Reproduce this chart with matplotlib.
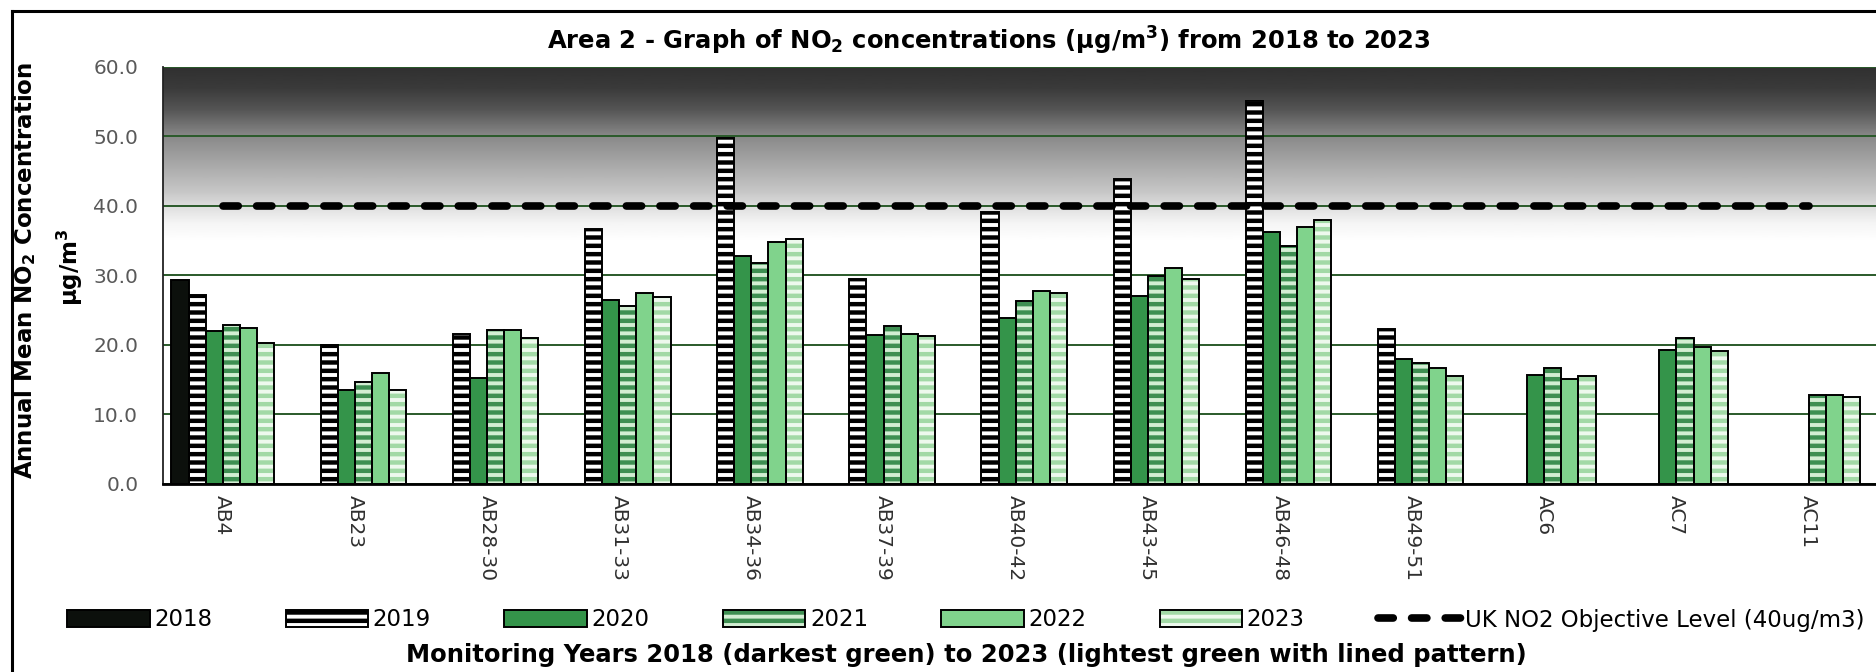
import numpy as np
import matplotlib
matplotlib.use('Agg')
import matplotlib.pyplot as plt
import matplotlib.patches as mpatches
from matplotlib.colors import LinearSegmentedColormap

plt.rcParams['font.family'] = 'DejaVu Sans'
plt.rcParams['mathtext.default'] = 'regular'
plt.rcParams['hatch.linewidth'] = 3.2

nan = np.nan

# monitoring sites and annual means (ug/m3)
sites = ['AB4', 'AB23', 'AB28-30', 'AB31-33', 'AB34-36', 'AB37-39', 'AB40-42',
         'AB43-45', 'AB46-48', 'AB49-51', 'AC6', 'AC7', 'AC11']
years = ['2018', '2019', '2020', '2021', '2022', '2023']
no2_2018 = [29.3, nan, nan, nan, nan, nan, nan, nan, nan, nan, nan, nan, nan]
no2_2019 = [27.1, 19.9, 21.5, 36.7, 49.8, 29.5, 39.1, 43.8, 55.1, 22.3, nan, nan, nan]
no2_2020 = [22.0, 13.5, 15.2, 26.5, 32.8, 21.4, 23.9, 27.0, 36.3, 17.9, 15.7, 19.3, nan]
no2_2021 = [22.9, 14.6, 22.1, 25.6, 31.8, 22.7, 26.3, 29.9, 34.2, 17.3, 16.7, 20.9, 12.8]
no2_2022 = [22.4, 15.9, 22.1, 27.4, 34.8, 21.5, 27.7, 31.0, 36.9, 16.7, 15.0, 19.7, 12.8]
no2_2023 = [20.3, 13.5, 21.0, 26.8, 35.2, 21.2, 27.5, 29.5, 37.9, 15.5, 15.5, 19.1, 12.5]
objective = [40] * len(sites)
yticks = [0, 10, 20, 30, 40, 50, 60]

series = [no2_2018, no2_2019, no2_2020, no2_2021, no2_2022, no2_2023]
faces = ['#0c100c', '#ffffff', '#34944a', '#d3eed3', '#80d38c', '#eef9ee']
hatches = [None, '--', None, '--', None, '--']
stripes = [None, '#000000', None, '#3e8f52', None, '#a2d9a6']

W, H = 1876, 672
fig = plt.figure(figsize=(W / 100, H / 100), dpi=100)
ax = fig.add_axes([163.3 / W, 188.5 / H, 1 - 163.3 / W, 416.5 / H])

x = np.arange(len(sites))
xlo, xhi = -0.45, 12.51
ax.set_xlim(xlo, xhi)
ax.set_ylim(0, 60)

# grey shading towards the top of the plot
lv = np.linspace(35, 60, 300)
shade = np.interp(lv, [35, 37.5, 40, 42, 46, 50, 54, 57, 60],
                  [1.0, 0.96, 0.87, 0.78, 0.66, 0.54, 0.33, 0.23, 0.19])
grey = LinearSegmentedColormap.from_list('g', ['black', 'white'])
ax.imshow(shade[:, None], cmap=grey, vmin=0, vmax=1, origin='lower',
          extent=[xlo, xhi, 35, 60], aspect='auto', zorder=0)

ax.set_axisbelow(True)
ax.yaxis.grid(True, color='#2a5a2a', lw=1.4)

w = 0.1294
for k, vals in enumerate(series):
    pos = x + (k - 2.5) * w
    ax.bar(pos, vals, w, color=faces[k], edgecolor=stripes[k] or faces[k],
           hatch=hatches[k], linewidth=0, zorder=2)
    ax.bar(pos, vals, w, fill=False, edgecolor='black', linewidth=1.4, zorder=3)

ax.plot(x, objective, color='black', lw=5.5, dashes=(2.0, 2.4),
        dash_capstyle='round', zorder=4)

for s in ['top', 'right']:
    ax.spines[s].set_visible(False)
ax.spines['left'].set_color('#222222')
ax.spines['left'].set_linewidth(1.3)
ax.spines['bottom'].set_color('black')
ax.spines['bottom'].set_linewidth(2)

ax.set_yticks(yticks)
ax.set_yticklabels([f'{v:.1f}' for v in yticks], color='#595959', fontsize=14.5)
ax.set_xticks(x)
ax.set_xticklabels(sites, rotation=-90, fontsize=14.5, color='#303030',
                   ha='center', va='top')
ax.tick_params(axis='y', length=0, pad=18)
ax.tick_params(axis='x', length=0, pad=8)

fig.text(989 / W, 1 - 41 / H,
         'Area 2 - Graph of NO$_2$ concentrations (µg/m$^3$) from 2018 to 2023',
         ha='center', va='center', fontsize=17.5, fontweight='bold')
fig.text(25 / W, 1 - 270 / H, 'Annual Mean NO$_2$ Concentration', rotation=90,
         ha='center', va='center', fontsize=16.5, fontweight='bold')
fig.text(70 / W, 1 - 267 / H, 'µg/m$^3$', rotation=90,
         ha='center', va='center', fontsize=16.5, fontweight='bold')
fig.text(966 / W, 1 - 655 / H,
         'Monitoring Years 2018 (darkest green) to 2023 (lightest green with lined pattern)',
         ha='center', va='center', fontsize=17.5, fontweight='bold')

handles = []
for k in range(len(years)):
    fill = mpatches.Patch(facecolor=faces[k], edgecolor=stripes[k] or faces[k],
                          hatch=hatches[k], linewidth=0)
    edge = mpatches.Patch(fill=False, edgecolor='black', linewidth=1.4)
    handles.append((fill, edge))
handles.append(plt.Line2D([], [], color='black', lw=5.5, dashes=(2.0, 2.4),
                          dash_capstyle='round'))
labels = years + ['UK NO2 Objective Level (40ug/m3)']
fig.legend(handles, labels, loc='center', bbox_to_anchor=(966 / W, 1 - 620 / H),
           ncol=7, frameon=False, fontsize=16.5, handlelength=3.6,
           handleheight=0.7, handletextpad=0.2, columnspacing=3.2)

# chart border
fig.add_artist(plt.Line2D([12 / W, 12 / W], [0, 1 - 11 / H], color='black',
                          lw=2.2, transform=fig.transFigure))
fig.add_artist(plt.Line2D([12 / W, 1], [1 - 11 / H, 1 - 11 / H], color='black',
                          lw=2.2, transform=fig.transFigure))

fig.savefig('out.png', dpi=100, facecolor='white')
